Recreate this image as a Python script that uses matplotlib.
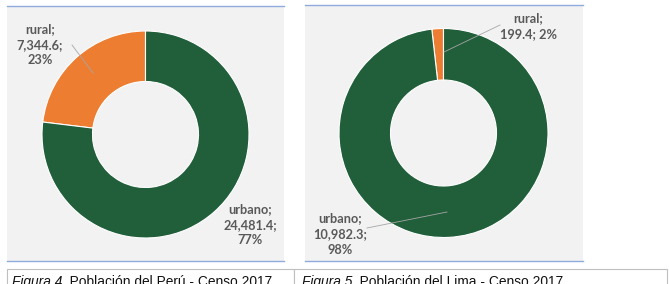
import matplotlib
matplotlib.use("Agg")
import matplotlib.pyplot as plt
from matplotlib.lines import Line2D
from matplotlib.patches import Rectangle

W, H = 669, 284
DPI = 100

# Data
categories = ["rural", "urbano"]
peru_values = [7344.6, 24481.4]
peru_pct = ["23%", "77%"]
lima_values = [199.4, 10982.3]
lima_pct = ["2%", "98%"]
captions = [("Figura 4", ". Población del Perú - Censo 2017"),
            ("Figura 5", ". Población del Lima - Censo 2017")]

colors = ["#ED7D31", "#215F3B"]
bg = "#F2F2F2"
blue = "#8FAADC"
lab_col = "#595959"

fig = plt.figure(figsize=(W / DPI, H / DPI), dpi=DPI)
fig.patch.set_facecolor("white")


def fx(x):
    return x / W


def fy(y):
    return 1 - y / H


def panel(x0, x1, y0, y1):
    fig.add_artist(Rectangle((fx(x0), fy(y1)), fx(x1) - fx(x0), fy(y0) - fy(y1),
                             transform=fig.transFigure, facecolor=bg, edgecolor="none", zorder=-5))
    for y in (y0, y1):
        fig.add_artist(Line2D([fx(x0), fx(x1)], [fy(y), fy(y)], color=blue, lw=1.0, zorder=-4))


def donut(cx, cy, r, rin, values):
    ax = fig.add_axes([fx(cx - r), fy(cy + r), fx(2 * r), (2 * r) / H])
    ax.set_zorder(2)
    ax.patch.set_visible(False)
    ax.pie(values, colors=colors, startangle=90, counterclock=True, radius=1,
           wedgeprops=dict(width=1 - rin / r, edgecolor="white", linewidth=0.8))
    ax.set_xlim(-1, 1)
    ax.set_ylim(-1, 1)
    ax.set_aspect("auto")
    ax.axis("off")
    return ax


def label(x, y, text):
    fig.text(fx(x), fy(y), text, ha="center", va="center", fontsize=9.2,
             family="Lato", weight="bold", color=lab_col, linespacing=1.35, zorder=5)


def leader(x0, y0, x1, y1):
    fig.add_artist(Line2D([fx(x0), fx(x1)], [fy(y0), fy(y1)], color="#A6A6A6", lw=0.6, zorder=6))


# Left panel
panel(7, 284, 6, 261)
donut(145.5, 134.5, 103.5, 53, peru_values)
label(40, 45, f"{categories[0]};\n{peru_values[0]:,.1f};\n{peru_pct[0]}")
label(250, 225, f"{categories[1]};\n{peru_values[1]:,.1f};\n{peru_pct[1]}")
leader(72, 45, 93, 73)

# Right panel
panel(305, 583, 5, 261)
donut(443.5, 133, 104.5, 53, lima_values)
label(528, 26, f"{categories[0]};\n{lima_values[0]:,.1f}; {lima_pct[0]}")
label(340, 234, f"{categories[1]};\n{lima_values[1]:,.1f};\n{lima_pct[1]}")
leader(500, 25, 444, 52)
leader(367, 228, 447, 212)

# Caption table
box_top = 269
for xa, xb in [(7, 294), (294, 667)]:
    fig.add_artist(Rectangle((fx(xa), fy(H + 5)), fx(xb) - fx(xa), (H + 5 - box_top) / H,
                             transform=fig.transFigure, facecolor="white",
                             edgecolor="#BFBFBF", lw=0.8, zorder=1))

for (it, rest), x in zip(captions, [12, 302]):
    t = fig.text(fx(x), fy(275), it, ha="left", va="top", fontsize=9.9,
                 family="Liberation Sans", style="italic", color="#111111", zorder=3)
    fig.canvas.draw()
    bb = t.get_window_extent()
    fig.text(bb.x1 / W, fy(275), rest, ha="left", va="top", fontsize=9.9,
             family="Liberation Sans", color="#111111", zorder=3)

fig.savefig("out.png", dpi=DPI, facecolor="white")
